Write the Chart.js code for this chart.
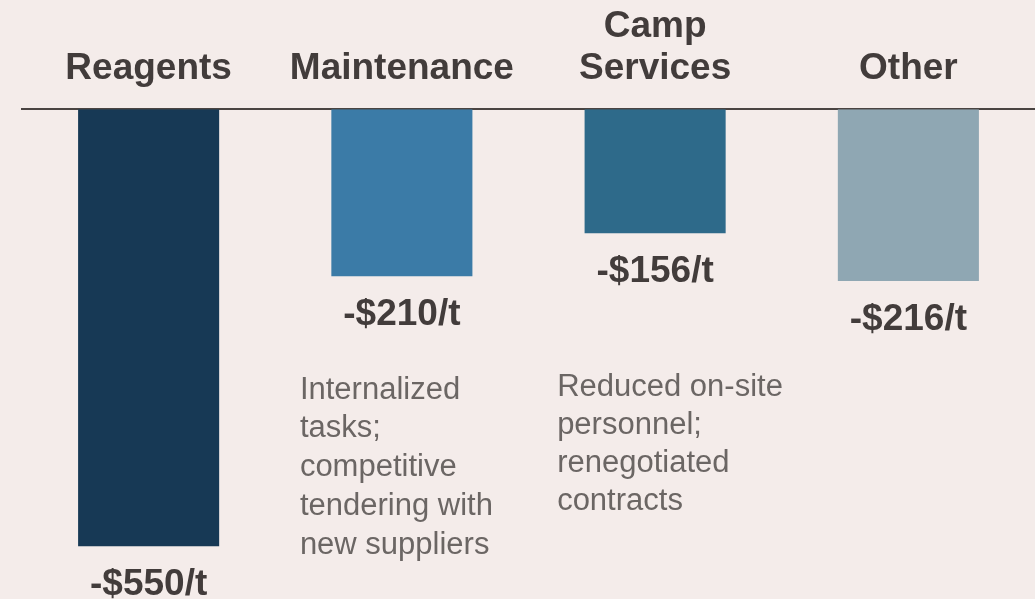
<!DOCTYPE html>
<html>
<head>
<meta charset="utf-8">
<script src="https://cdn.jsdelivr.net/npm/chart.js@4/dist/chart.umd.min.js"></script>
<style>
  html, body { margin: 0; padding: 0; background: #f4ecea; }
  #wrap { width: 1035px; height: 599px; position: relative; }
</style>
</head>
<body>
<div id="wrap"><canvas id="chart"></canvas></div>
<script>
const categories = ['Reagents', 'Maintenance', ['Camp', 'Services'], 'Other'];
const savings = [-550, -210, -156, -216];
const valueLabels = ['-$550/t', '-$210/t', '-$156/t', '-$216/t'];
const barColors = ['#173955', '#3b7ba7', '#2e6a8a', '#8fa7b3'];
const notes = [
    [],
    ['Internalized', 'tasks;', 'competitive', 'tendering with', 'new suppliers'],
    ['Reduced on-site', 'personnel;', 'renegotiated', 'contracts'],
    []
];

const textDark = '#423c3b';
const textGrey = '#6b6664';

const labelsPlugin = {
    id: 'labels',
    afterDatasetsDraw(chart) {
        const ctx = chart.ctx;
        const meta = chart.getDatasetMeta(0);
        ctx.save();
        meta.data.forEach((bar, i) => {
            // value under each bar
            ctx.fillStyle = textDark;
            ctx.font = 'bold 37px "Liberation Sans", Arial, sans-serif';
            ctx.textAlign = 'center';
            ctx.textBaseline = 'middle';
            ctx.fillText(valueLabels[i], bar.x, bar.y + 39);

            // explanatory notes
            if (notes[i].length) {
                ctx.fillStyle = textGrey;
                ctx.font = '31px "Liberation Sans", Arial, sans-serif';
                ctx.textAlign = 'left';
                const left = bar.x - (i === 1 ? 102 : 98);
                const top = i === 1 ? 390 : 387;
                const step = i === 1 ? 38.8 : 38;
                notes[i].forEach((line, j) => ctx.fillText(line, left, top + j * step));
            }
        });
        ctx.restore();
    }
};

new Chart(document.getElementById('chart'), {
    type: 'bar',
    data: {
        labels: categories,
        datasets: [{
            data: savings,
            backgroundColor: barColors,
            categoryPercentage: 0.557,
            barPercentage: 1,
            borderWidth: 0
        }]
    },
    options: {
        responsive: true,
        maintainAspectRatio: false,
        animation: false,
        layout: { padding: { left: 22, right: 0, top: -5, bottom: 13 } },
        plugins: { legend: { display: false }, tooltip: { enabled: false } },
        scales: {
            x: {
                position: 'top',
                grid: { display: false },
                border: { display: true, color: '#4a4442', width: 2 },
                ticks: {
                    color: textDark,
                    font: { family: '"Liberation Sans", Arial, sans-serif', size: 37, weight: 'bold', lineHeight: 1.14 },
                    padding: 11,
                    maxRotation: 0,
                    autoSkip: false
                }
            },
            y: {
                display: false,
                min: -600,
                max: 0
            }
        }
    },
    plugins: [labelsPlugin]
});
</script>
</body>
</html>
